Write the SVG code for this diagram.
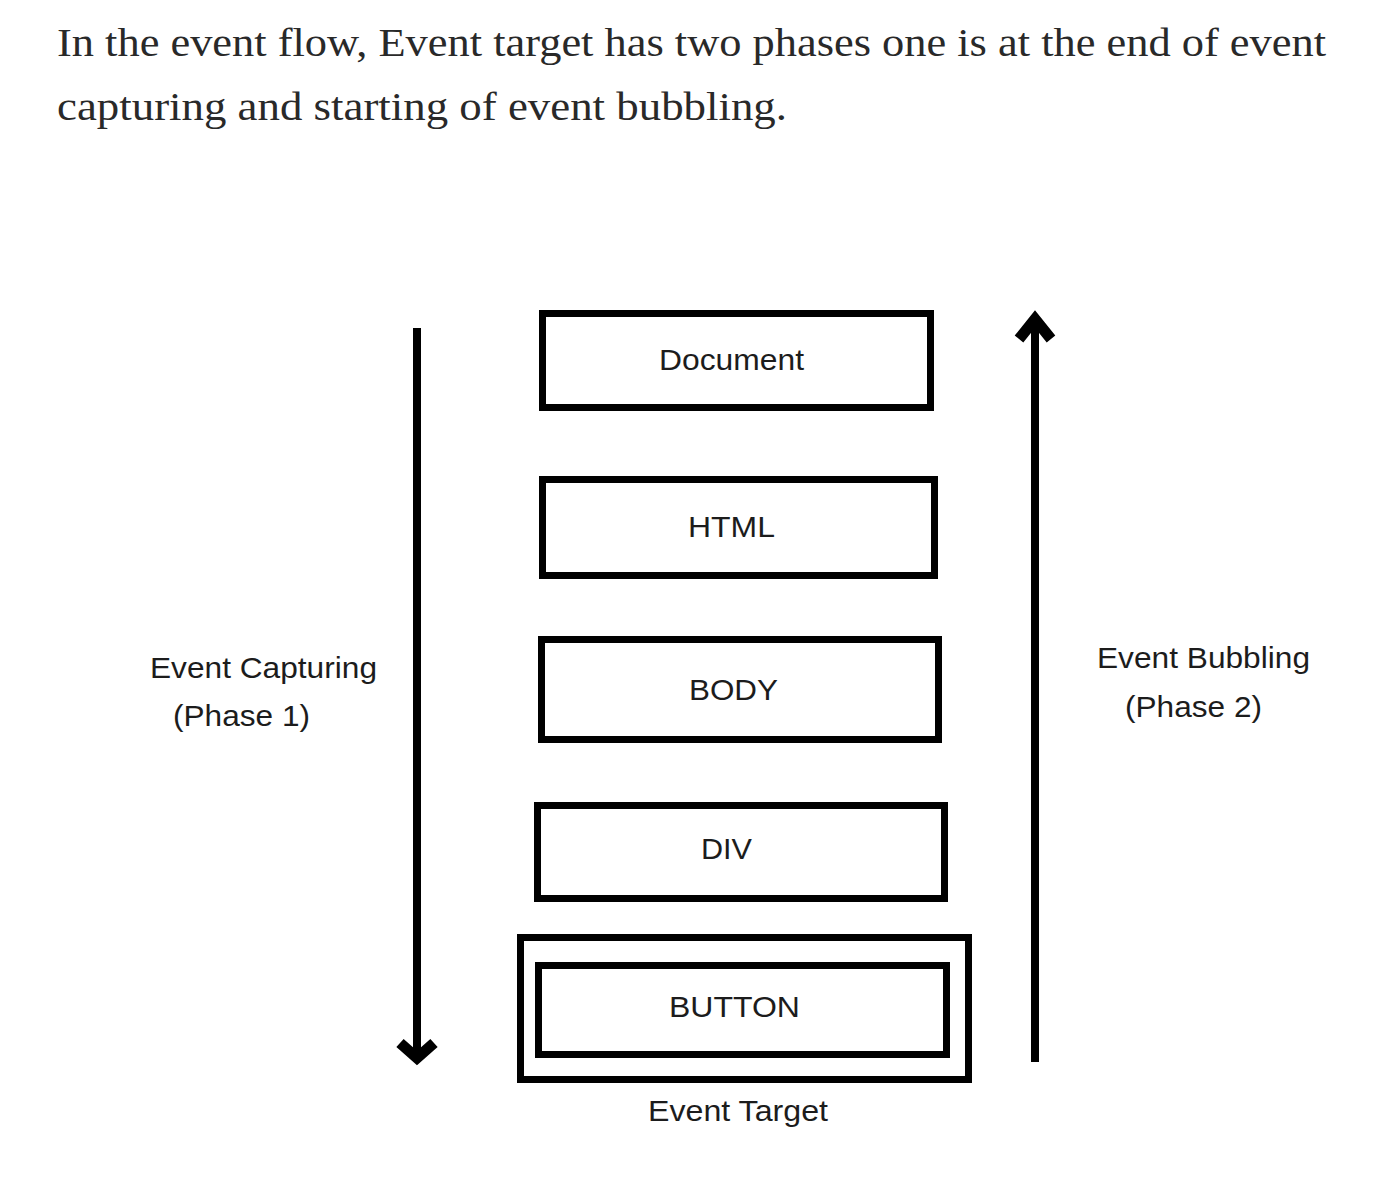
<svg xmlns="http://www.w3.org/2000/svg" width="1396" height="1202" viewBox="0 0 1396 1202">
<style>
.box{fill:#fff;stroke:#000;stroke-width:7}
.lbl{font-family:"Liberation Sans",Arial,sans-serif;font-size:30px;fill:#1c1c1c}
.hdr{font-family:"Liberation Serif","Times New Roman",serif;font-size:40px;fill:#292929}
.shaft{stroke:#000;stroke-width:8;fill:none}
.head{stroke:#000;stroke-width:11;fill:none;stroke-linejoin:miter;stroke-linecap:butt}
</style>
<rect width="1396" height="1202" fill="#fff"/>
<g id="header">
<text class="hdr" x="57" y="56" textLength="1269" lengthAdjust="spacingAndGlyphs">In the event flow, Event target has two phases one is at the end of event</text>
<text class="hdr" x="57" y="120" textLength="730" lengthAdjust="spacingAndGlyphs">capturing and starting of event bubbling.</text>
</g>
<g id="connectors">
<g id="capture-arrow">
<line class="shaft" x1="417" y1="328" x2="417" y2="1056"/>
<path class="head" d="M400,1043 L417,1058 L434,1043"/>
</g>
<g id="bubble-arrow">
<line class="shaft" x1="1035" y1="1062" x2="1035" y2="322"/>
<path class="head" d="M1019,339 L1035,319 L1051,339"/>
</g>
</g>
<g id="node-document">
<rect class="box" x="542.5" y="313.5" width="388" height="94"/>
<text class="lbl" x="659" y="370" textLength="145" lengthAdjust="spacingAndGlyphs">Document</text>
</g>
<g id="node-html">
<rect class="box" x="542.5" y="479.5" width="392" height="96"/>
<text class="lbl" x="688" y="537" textLength="87" lengthAdjust="spacingAndGlyphs">HTML</text>
</g>
<g id="node-body">
<rect class="box" x="541.5" y="639.5" width="397" height="100"/>
<text class="lbl" x="689" y="700" textLength="89" lengthAdjust="spacingAndGlyphs">BODY</text>
</g>
<g id="node-div">
<rect class="box" x="537.5" y="805.5" width="407" height="93"/>
<text class="lbl" x="701" y="859" textLength="51" lengthAdjust="spacingAndGlyphs">DIV</text>
</g>
<g id="node-event-target">
<rect class="box" x="520.5" y="937.5" width="448" height="142"/>
<text class="lbl" x="648" y="1121" textLength="180" lengthAdjust="spacingAndGlyphs">Event Target</text>
</g>
<g id="node-button">
<rect class="box" x="538.5" y="965.5" width="408" height="89"/>
<text class="lbl" x="669" y="1017" textLength="131" lengthAdjust="spacingAndGlyphs">BUTTON</text>
</g>
<g id="label-capturing">
<text class="lbl" x="150" y="678" textLength="227" lengthAdjust="spacingAndGlyphs">Event Capturing</text>
<text class="lbl" x="173" y="726" textLength="137" lengthAdjust="spacingAndGlyphs">(Phase 1)</text>
</g>
<g id="label-bubbling">
<text class="lbl" x="1097" y="668" textLength="213" lengthAdjust="spacingAndGlyphs">Event Bubbling</text>
<text class="lbl" x="1125" y="717" textLength="137" lengthAdjust="spacingAndGlyphs">(Phase 2)</text>
</g>
</svg>
